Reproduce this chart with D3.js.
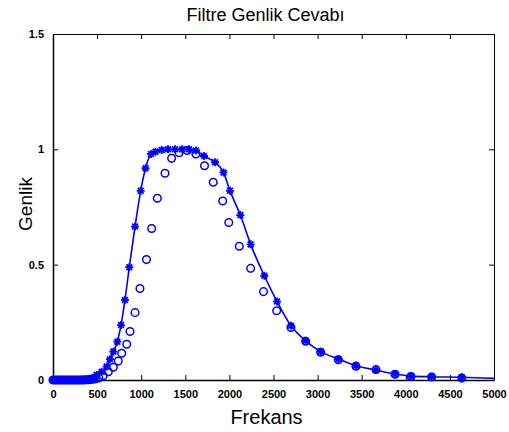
<!DOCTYPE html>
<html>
<head>
<meta charset="utf-8">
<script src="https://cdn.jsdelivr.net/npm/d3@7"></script>
<style>
html,body{margin:0;padding:0;background:#fff;}
svg{display:block;}
</style>
</head>
<body>
<svg id="chart" width="509" height="432"></svg>
<script>
// ---- data ----
const title = "Filtre Genlik Cevabı";
const xLabel = "Frekans";
const yLabel = "Genlik";
const xTicks = [0,500,1000,1500,2000,2500,3000,3500,4000,4500,5000];
const yTicks = [0,0.5,1,1.5];

// solid line series with asterisk markers
const starFreq = [0,25,50,75,100,125,150,175,200,225,250,275,300,325,350,375,400,425,450,475,495,552,609,646,684,729,771,816,865,930,994,1049,1111,1162,1232,1304,1383,1463,1542,1621,1712,1837,1933,2007,2124,2241,2396,2540,2698,2865,3035,3235,3435,3662,3878,4059,4293,4634];
const starVal  = [0,0,0,0,0,0,0,0,0,0,0,0,0,0.001,0.001,0.002,0.003,0.005,0.008,0.013,0.022,0.036,0.058,0.09,0.123,0.166,0.238,0.347,0.489,0.665,0.82,0.918,0.98,0.99,0.997,1.0,1.0,1.0,1.0,0.995,0.971,0.944,0.9,0.82,0.715,0.588,0.452,0.34,0.235,0.17,0.123,0.091,0.062,0.043,0.026,0.017,0.014,0.012];
const lineTailFreq = [5000];
const lineTailVal  = [0.007];

// circle series
const circleFreq = [0,25,50,75,100,125,150,175,200,225,250,275,300,325,350,375,400,425,450,480,520,570,627,684,740,779,836,873,930,986,1060,1119,1183,1270,1345,1430,1520,1620,1718,1817,1924,1993,2112,2241,2387,2536,2698,2865,3035,3235,3435,3662,3878,4059,4293,4634];
const circleVal  = [0,0,0,0,0,0,0,0,0,0,0,0,0,0,0,0.001,0.001,0.002,0.003,0.005,0.009,0.018,0.036,0.055,0.082,0.116,0.155,0.21,0.292,0.397,0.522,0.657,0.788,0.896,0.961,0.985,0.995,0.98,0.929,0.857,0.776,0.683,0.58,0.484,0.383,0.3,0.228,0.168,0.12,0.088,0.06,0.045,0.025,0.015,0.013,0.008];

// ---- layout ----
const L = 53, R = 494, T = 34, B = 380;
const blue = "#0000ff";
const svg = d3.select("#chart");
const x = d3.scaleLinear().domain([0,5000]).range([L,R]);
const y = d3.scaleLinear().domain([0,1.5]).range([B,T]);

const tickFont = "'Liberation Sans', Arial, sans-serif";

// axes (inward ticks)
const gx = svg.append("g").attr("transform",`translate(0,${B})`)
  .call(d3.axisBottom(x).tickValues(xTicks).tickSizeInner(-5).tickSizeOuter(0).tickPadding(10).tickFormat(d3.format("d")));
const gxt = svg.append("g").attr("transform",`translate(0,${T})`)
  .call(d3.axisTop(x).tickValues(xTicks).tickSizeInner(-5).tickSizeOuter(0).tickFormat(""));
const gy = svg.append("g").attr("transform",`translate(${L},0)`)
  .call(d3.axisLeft(y).tickValues(yTicks).tickSizeInner(-5).tickSizeOuter(0).tickPadding(9).tickFormat(d => d3.format("~g")(d)));
const gyr = svg.append("g").attr("transform",`translate(${R},0)`)
  .call(d3.axisRight(y).tickValues(yTicks).tickSizeInner(-5).tickSizeOuter(0).tickFormat(""));
[gx,gxt,gy,gyr].forEach(g=>{
  g.select(".domain").attr("stroke","#000").attr("stroke-width",1);
  g.selectAll(".tick line").attr("stroke","#000");
  g.selectAll("text").attr("font-family",tickFont).attr("font-size",11).attr("font-weight","bold").attr("fill","#000");
});
gx.select(".domain").attr("stroke-width",1.5);
gy.select(".domain").attr("stroke-width",1.5);

const plot = svg.append("g");

// line
const linePts = starFreq.map((f,i)=>[f,starVal[i]]).concat(lineTailFreq.map((f,i)=>[f,lineTailVal[i]]));
plot.append("path")
  .datum(linePts)
  .attr("fill","none").attr("stroke",blue).attr("stroke-width",1.6)
  .attr("d", d3.line().x(d=>x(d[0])).y(d=>y(d[1])).curve(d3.curveMonotoneX));

// circles
plot.selectAll("circle.c").data(circleFreq.map((f,i)=>[f,circleVal[i]])).enter()
  .append("circle").attr("class","c")
  .attr("cx",d=>x(d[0])).attr("cy",d=>y(d[1])).attr("r",3.8)
  .attr("fill","none").attr("stroke",blue).attr("stroke-width",1.5);

// asterisk markers
const s = 4, s2 = s*0.72;
const astPath = `M${-s},0L${s},0M0,${-s}L0,${s}M${-s2},${-s2}L${s2},${s2}M${-s2},${s2}L${s2},${-s2}`;
plot.selectAll("path.st").data(starFreq.map((f,i)=>[f,starVal[i]])).enter()
  .append("path").attr("class","st")
  .attr("transform",d=>`translate(${x(d[0])},${y(d[1])})`)
  .attr("d",astPath).attr("fill","none").attr("stroke",blue).attr("stroke-width",1.8);

// title & labels
svg.append("text").attr("x",(L+R)/2-8).attr("y",21).attr("text-anchor","middle")
  .attr("font-family",tickFont).attr("font-size",18).attr("fill","#000").text(title);
svg.append("text").attr("x",(L+R)/2-7).attr("y",424).attr("text-anchor","middle")
  .attr("font-family",tickFont).attr("font-size",20).attr("fill","#000").text(xLabel);
svg.append("text").attr("transform",`translate(32,204) rotate(-90)`).attr("text-anchor","middle")
  .attr("font-family",tickFont).attr("font-size",19).attr("fill","#000").text(yLabel);
</script>
</body>
</html>
